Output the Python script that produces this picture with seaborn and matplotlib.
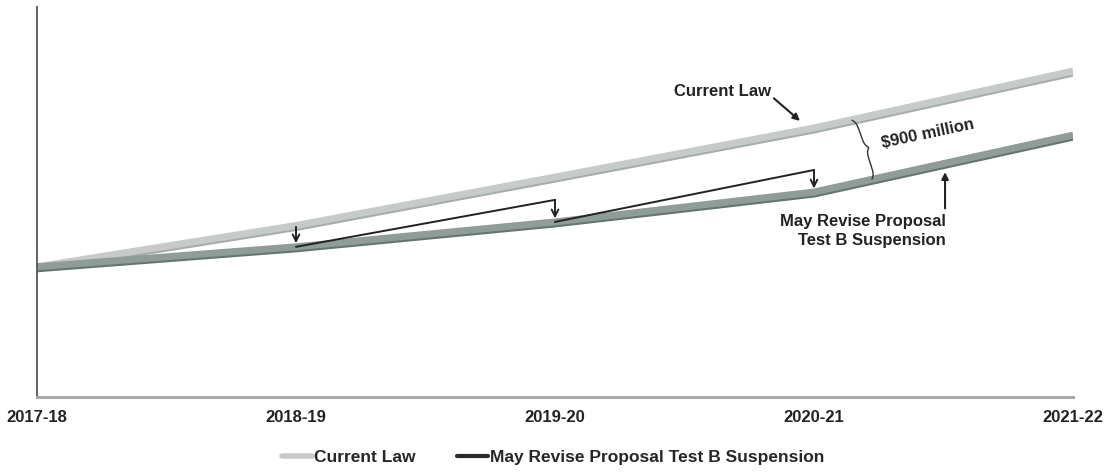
import numpy as np
import pandas as pd
import matplotlib
matplotlib.use("Agg")
import matplotlib.pyplot as plt
import seaborn as sns
from matplotlib import patheffects as pe
from matplotlib.lines import Line2D

# Proposition 98 guarantee paths, $ millions
years = ["2017-18", "2018-19", "2019-20", "2020-21", "2021-22"]
current_law = [1830, 2410, 3090, 3780, 4580]
may_revise = [1830, 2110, 2460, 2880, 3680]

# growth applied to the lowered base before each new reduction
ratchet_start = [2110, 2460]   # 2018-19, 2019-20
ratchet_peak = [2770, 3190]    # 2019-20, 2020-21

series_names = ["Current Law", "May Revise Proposal Test B Suspension"]
line_colors = ["#c6cbca", "#8e9d9a"]
legend_colors = ["#c6cbca", "#2b2b2b"]

sns.set_theme(style="white")
plt.rcParams["font.family"] = ["Liberation Sans Narrow", "Liberation Sans", "DejaVu Sans"]
plt.rcParams["font.weight"] = "bold"

fig = plt.figure(figsize=(11.06, 4.74), dpi=100)
ax = fig.add_axes([37 / 1106, 77 / 474, 1036 / 1106, 390 / 474])

pos = list(range(len(years)))
df = pd.DataFrame({
    "pos": pos * 2,
    "value": current_law + may_revise,
    "series": [series_names[0]] * len(years) + [series_names[1]] * len(years),
})
sns.lineplot(data=df, x="pos", y="value", hue="series", hue_order=series_names,
             palette=line_colors, linewidth=5, legend=False, ax=ax,
             solid_capstyle="butt")
shade = ["#a6adac", "#66756f"]
for ln, sh in zip(ax.lines, shade):
    ln.set_path_effects([pe.Stroke(linewidth=6, foreground=sh, offset=(0, -1)),
                         pe.Normal()])

ax.set_xlim(0, 4)
ax.set_ylim(0, 5480)

ink = "#222222"
# reduction arrow at 2018-19
ax.annotate("", xy=(1, may_revise[1] + 50), xytext=(1, current_law[1] - 20),
            arrowprops=dict(arrowstyle="->", lw=1.4, color=ink, mutation_scale=12,
                            shrinkA=0, shrinkB=0))
# growth lines and reduction arrows for later years
for i in range(2):
    x0, x1 = i + 1, i + 2
    ax.plot([x0, x1], [ratchet_start[i], ratchet_peak[i]], color=ink, lw=1.4,
            solid_capstyle="round")
    ax.annotate("", xy=(x1, may_revise[x1] + 50), xytext=(x1, ratchet_peak[i]),
                arrowprops=dict(arrowstyle="->", lw=1.4, color=ink, mutation_scale=12,
                                shrinkA=0, shrinkB=0))

# series call-outs
ax.annotate("Current Law", xy=(2.946, 3880), xytext=(2.645, 4290),
            ha="center", va="center", fontsize=12, color=ink, fontweight="bold",
            arrowprops=dict(arrowstyle="-|>", lw=1.5, color=ink, mutation_scale=10,
                            relpos=(1.0, 0.25), shrinkA=0, shrinkB=0))
ax.annotate("", xy=(3.506, 3160), xytext=(3.506, 2650),
            arrowprops=dict(arrowstyle="-|>", lw=1.5, color=ink, mutation_scale=10,
                            shrinkA=0, shrinkB=0))
ax.text(3.51, 2330, "May Revise Proposal\nTest B Suspension", ha="right", va="center",
        multialignment="right", fontsize=12, color=ink, fontweight="bold",
        linespacing=1.35)
ax.text(3.44, 3700, "$900 million", ha="center", va="center", rotation=12,
        fontsize=12, color=ink, fontweight="bold")

# curly brace spanning the gap between the two paths
def draw_brace(ax, top, bottom, width=7, beta=0.45):
    p0 = ax.transData.transform(top)
    p1 = ax.transData.transform(bottom)
    vec = p1 - p0
    length = np.hypot(*vec)
    d = vec / length
    n = np.array([-d[1], d[0]])
    u = np.linspace(0, length, 301)
    half = u[:151]
    v_half = (1 / (1 + np.exp(-beta * (half - half[0])))
              + 1 / (1 + np.exp(-beta * (half - half[-1])))) - 0.5
    v = np.concatenate([v_half, v_half[-2::-1]]) * width
    pts = p0 + np.outer(u, d) + np.outer(v, n)
    data_pts = ax.transData.inverted().transform(pts)
    ax.plot(data_pts[:, 0], data_pts[:, 1], color="#333333", lw=1.0)

draw_brace(ax, (3.147, 3890), (3.224, 3060))

# axes styling
for side in ["top", "right"]:
    ax.spines[side].set_visible(False)
ax.spines["left"].set_color("#555555")
ax.spines["left"].set_linewidth(1.3)
ax.spines["bottom"].set_color("#a8a8a8")
ax.spines["bottom"].set_linewidth(2.2)
ax.set_yticks([])
ax.set_xticks(pos)
ax.set_xticklabels(years, fontsize=12, fontweight="bold", color=ink)
ax.tick_params(axis="x", length=0, pad=9)
ax.set_xlabel("")
ax.set_ylabel("")

handles = [Line2D([], [], color=legend_colors[0], lw=4),
           Line2D([], [], color=legend_colors[1], lw=3)]
fig.legend(handles, series_names, loc="center", bbox_to_anchor=(0.5, 0.034),
           ncol=2, frameon=False, handlelength=1.75, handletextpad=0.1,
           columnspacing=2.4, prop=dict(weight="bold", size=12.5))

fig.savefig("out.png", dpi=100, facecolor="white")
